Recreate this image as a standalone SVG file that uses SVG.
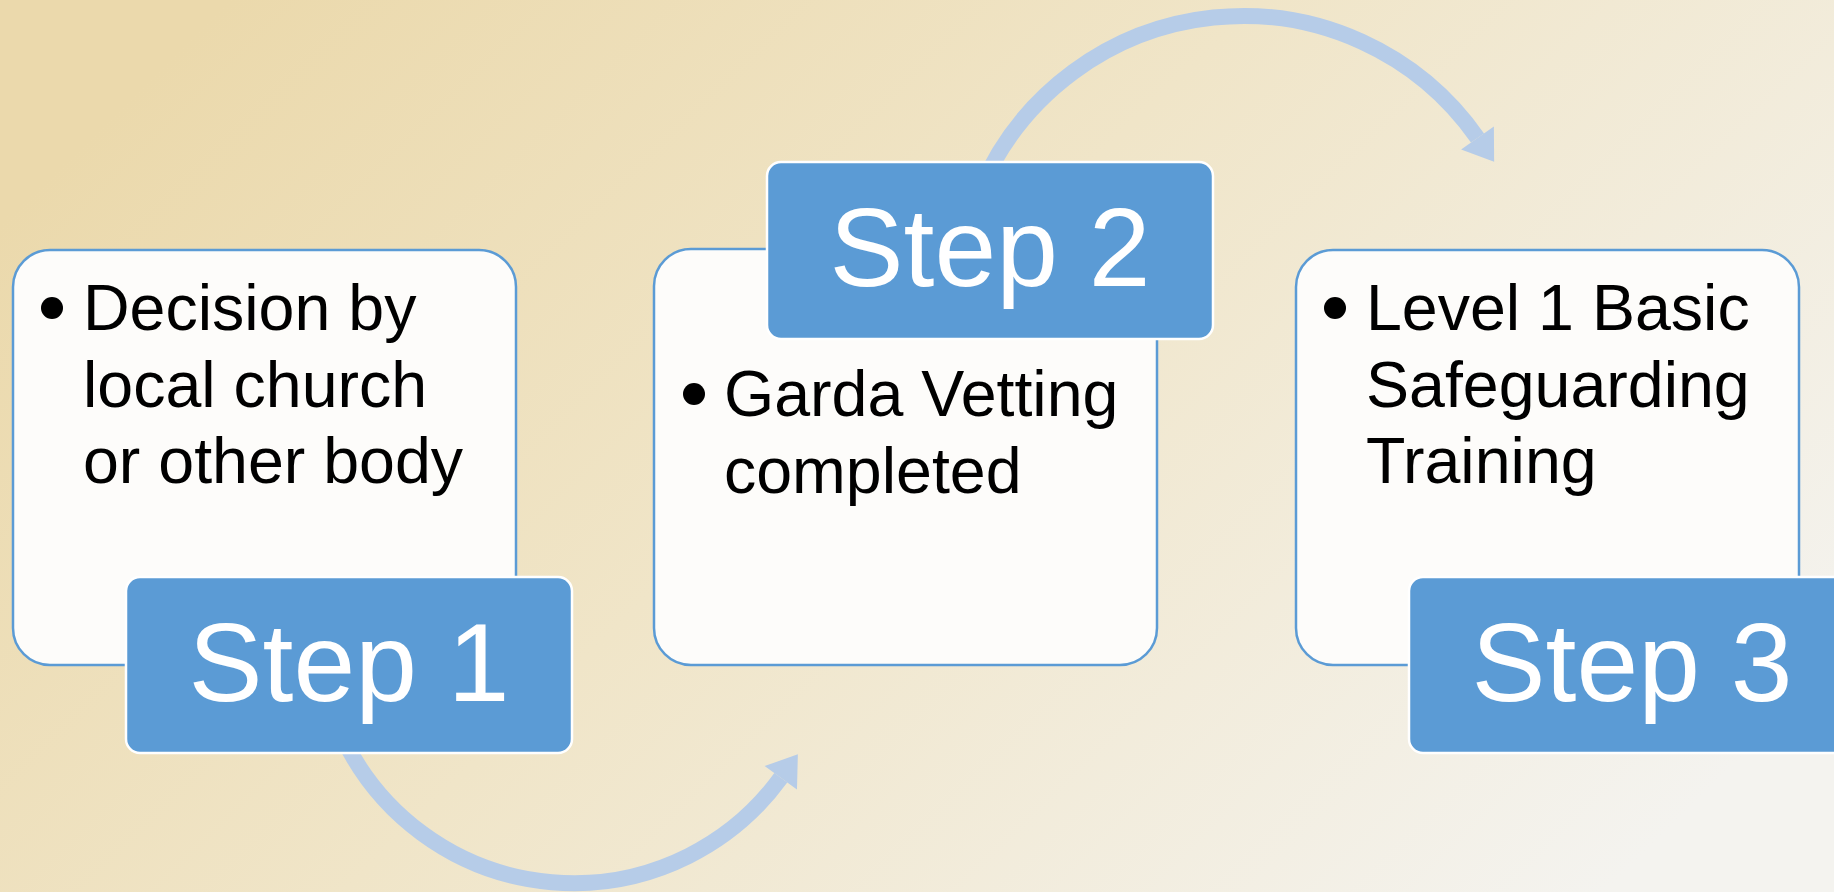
<svg xmlns="http://www.w3.org/2000/svg" width="1834" height="892" viewBox="0 0 1834 892">
  <defs>
    <linearGradient id="bg" x1="0" y1="0.25" x2="1" y2="0.75">
      <stop offset="0" stop-color="#EBD9AC"/>
      <stop offset="0.45" stop-color="#F0E5C8"/>
      <stop offset="1" stop-color="#F4F3EF"/>
    </linearGradient>
    <marker id="head" markerUnits="userSpaceOnUse" markerWidth="40" markerHeight="44" viewBox="0 -22 30 44" refX="0" refY="0" orient="auto" overflow="visible">
      <polygon points="0,-20 29,0 0,20" fill="#B6CCE8"/>
    </marker>
    <style>
      .card { fill: #FDFCFA; stroke: #5B9BD5; stroke-width: 2.5; }
      .tab { fill: #5B9BD5; stroke: #FFFFFF; stroke-width: 2.5; }
      .tabtxt { font-family: "Liberation Sans", Arial, sans-serif; font-size: 111px; fill: #FFFFFF; text-anchor: middle; }
      .body { font-family: "Liberation Sans", Arial, sans-serif; font-size: 64.5px; fill: #000000; }
      .dot { fill: #000000; }
      .arc { fill: none; stroke: #B6CCE8; stroke-width: 16; marker-end: url(#head); }
    </style>
  </defs>

  <rect x="0" y="0" width="1834" height="892" fill="url(#bg)"/>

  <g id="connectors">
    <path class="arc" d="M 344 740 A 256 256 0 0 0 780.8 777.8"/>
    <path class="arc" d="M 980 190 A 286 286 0 0 1 1477.5 138"/>
  </g>

  <g id="step1">
    <rect class="card" x="13" y="250" width="503" height="415" rx="37" ry="37"/>
    <circle class="dot" cx="52" cy="308" r="11"/>
    <text class="body" x="83" y="330">Decision by</text>
    <text class="body" x="83" y="407">local church</text>
    <text class="body" x="83" y="483">or other body</text>
    <rect class="tab" x="126" y="577" width="446" height="176" rx="14" ry="14"/>
    <text class="tabtxt" x="349" y="701">Step 1</text>
  </g>

  <g id="step2">
    <rect class="card" x="654" y="249" width="503" height="416" rx="37" ry="37"/>
    <circle class="dot" cx="694" cy="394" r="11"/>
    <text class="body" x="724" y="416">Garda Vetting</text>
    <text class="body" x="724" y="493">completed</text>
    <rect class="tab" x="767" y="162" width="446" height="177" rx="14" ry="14"/>
    <text class="tabtxt" x="990" y="286">Step 2</text>
  </g>

  <g id="step3">
    <rect class="card" x="1296" y="250" width="503" height="415" rx="37" ry="37"/>
    <circle class="dot" cx="1335" cy="308" r="11"/>
    <text class="body" x="1366" y="330">Level 1 Basic</text>
    <text class="body" x="1366" y="407">Safeguarding</text>
    <text class="body" x="1366" y="483">Training</text>
    <rect class="tab" x="1409" y="577" width="447" height="176" rx="14" ry="14"/>
    <text class="tabtxt" x="1632" y="701">Step 3</text>
  </g>
</svg>
